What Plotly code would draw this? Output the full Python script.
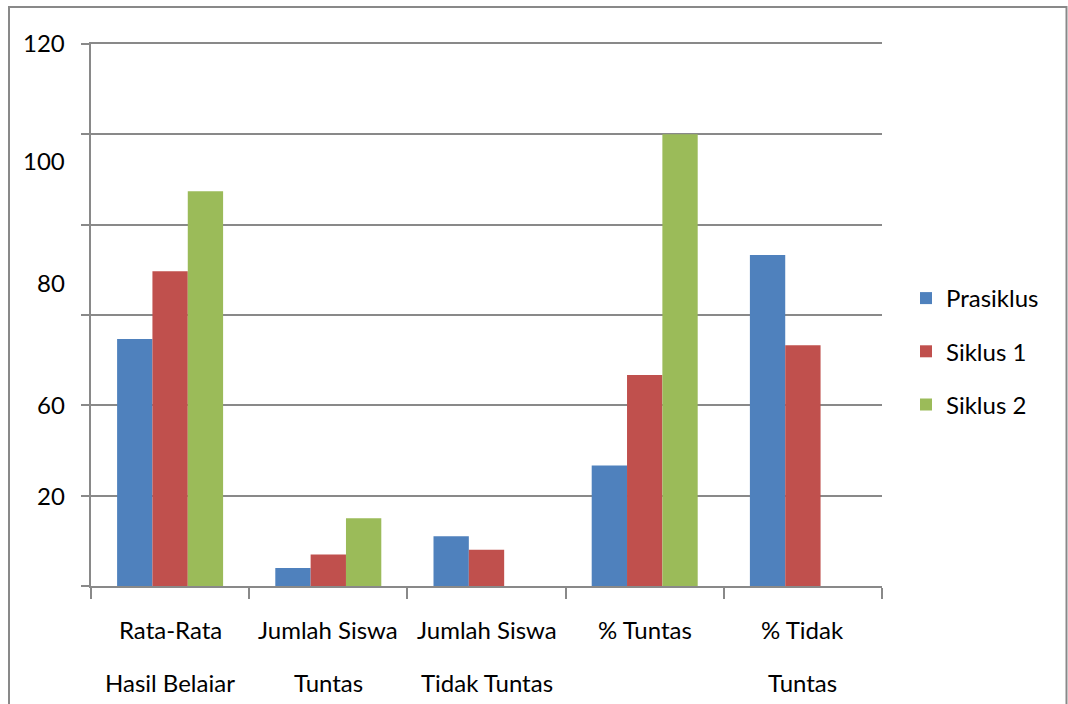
import plotly.graph_objects as go

categories = ["Rata-Rata Hasil Belaiar", "Jumlah Siswa Tuntas", "Jumlah Siswa Tidak Tuntas",
              "% Tuntas", "% Tidak Tuntas"]
cat_line1 = ["Rata-Rata", "Jumlah Siswa", "Jumlah Siswa", "% Tuntas", "% Tidak"]
cat_line2 = ["Hasil Belaiar", "Tuntas", "Tidak Tuntas", "", "Tuntas"]

prasiklus = [54.7, 4, 11, 26.7, 73.3]
siklus1 = [69.7, 7, 8, 46.7, 53.3]
siklus2 = [87.4, 15, 0, 100, 0]

series_names = ["Prasiklus", "Siklus 1", "Siklus 2"]
series_values = [prasiklus, siklus1, siklus2]
colors = ["#4F81BD", "#C0504D", "#9BBB59"]

grid_vals = [0, 20, 40, 60, 80, 100, 120]
# y-axis labels as printed in the source (placed at the positions they appear)
ylabel_text = ["120", "100", "80", "60", "20"]
ylabel_pos = [120.4, 94.3, 67.3, 40.2, 20]

FONT = "Lato"
FS = 24
W, H = 1068, 704
L, R, T, B = 91, 186, 44, 118
pw, ph = W - L - R, H - T - B
YMAX = 120

def px_x(p):
    return (p - L) / pw

def px_y(p):
    return (H - B - p) / ph

fig = go.Figure()
for i, (name, vals, c) in enumerate(zip(series_names, series_values, colors)):
    fig.add_trace(go.Bar(x=categories, y=vals, name=name, marker=dict(color=c, line=dict(width=0)),
                         legendgroup=f"g{i}"))

annotations = []
for t, v in zip(ylabel_text, ylabel_pos):
    annotations.append(dict(text=t, x=px_x(67), y=v / YMAX, xref="paper", yref="paper", xanchor="right",
                            yanchor="middle", showarrow=False, font=dict(family=FONT, size=FS, color="#000")))
for cat, l1, l2 in zip(categories, cat_line1, cat_line2):
    annotations.append(dict(text=l1, x=cat, y=px_y(629), xref="x", yref="paper", xanchor="center",
                            yanchor="middle", showarrow=False, font=dict(family=FONT, size=FS, color="#000")))
    if l2:
        annotations.append(dict(text=l2, x=cat, y=px_y(682), xref="x", yref="paper", xanchor="center",
                                yanchor="middle", showarrow=False, font=dict(family=FONT, size=FS, color="#000")))

shapes = [dict(type="rect", xref="paper", yref="paper", x0=px_x(9), x1=px_x(1066.5), y0=px_y(720),
               y1=px_y(7), line=dict(color="#898989", width=2), fillcolor="rgba(0,0,0,0)", layer="below")]

fig.update_layout(
    width=W, height=H,
    margin=dict(l=L, r=R, t=T, b=B, autoexpand=False),
    paper_bgcolor="white", plot_bgcolor="white",
    barmode="group", bargap=0.33, bargroupgap=0,
    font=dict(family=FONT, size=FS, color="#000"),
    showlegend=True,
    legend=dict(x=px_x(906), xref="paper", y=px_y(276), yanchor="top", xanchor="left",
                tracegroupgap=19, traceorder="grouped", font=dict(family=FONT, size=FS, color="#000"),
                bgcolor="rgba(0,0,0,0)", itemclick=False),
    xaxis=dict(showticklabels=False, ticks="outside", tickson="boundaries", ticklen=11,
               tickcolor="#898989", tickwidth=2, showline=True, mirror=True, linecolor="#898989",
               linewidth=2, showgrid=False, zeroline=False),
    yaxis=dict(range=[0, YMAX], tickvals=grid_vals, showticklabels=False, ticks="outside", ticklen=8,
               tickcolor="#898989", tickwidth=2, showgrid=True, gridcolor="#898989", gridwidth=2,
               showline=True, linecolor="#898989", linewidth=2, zeroline=False),
    annotations=annotations,
    shapes=shapes,
)

fig.write_html("out.html")
